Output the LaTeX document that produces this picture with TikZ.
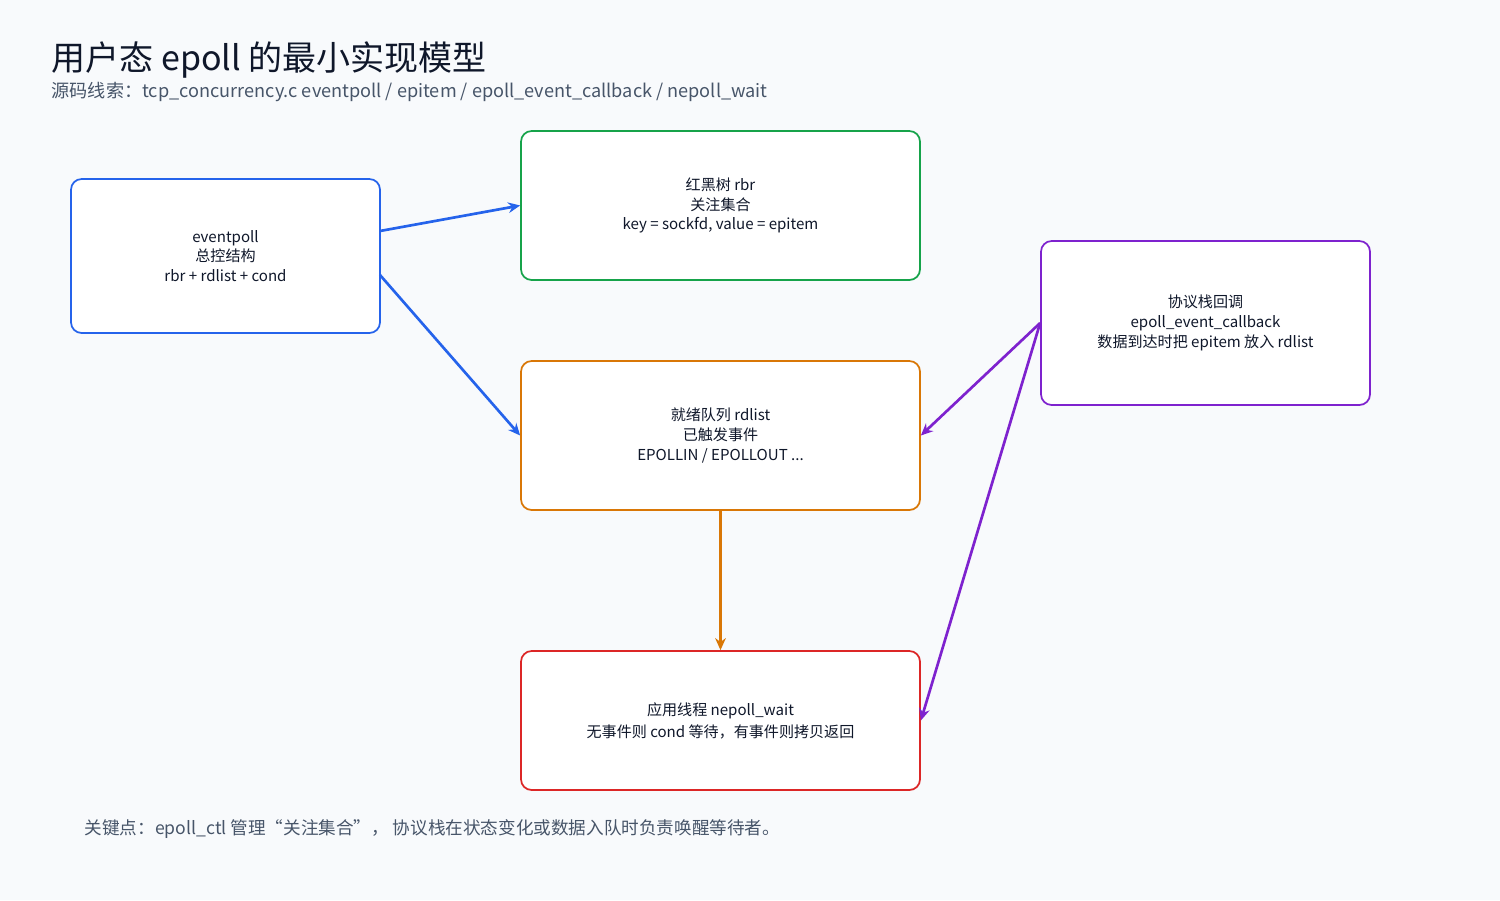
\documentclass[tikz,border=0pt]{standalone}
\usepackage{fontspec}
\setmainfont{Noto Sans CJK SC}
\usetikzlibrary{arrows.meta}
\definecolor{bg}{HTML}{F8FAFC}
\definecolor{cb}{HTML}{2563EB}
\definecolor{cg}{HTML}{16A34A}
\definecolor{co}{HTML}{D97706}
\definecolor{cp}{HTML}{7E22CE}
\definecolor{cr}{HTML}{DC2626}
\definecolor{tx}{HTML}{0F172A}
\definecolor{sub}{HTML}{475569}
\begin{document}
\begin{tikzpicture}[x=0.75pt,y=-0.75pt,
  box/.style={draw=#1,line width=1.3pt,fill=white,rounded corners=8pt,align=center,font=\fontsize{11.3}{14.8}\selectfont,text=tx},
  arr/.style={draw=#1,line width=2pt,-{Stealth[length=9pt,width=8pt]}}]
\fill[bg] (0,0) rectangle (1500,900);
\useasboundingbox (0,0) rectangle (1500,900);
\node[anchor=west,text=tx,font=\fontsize{25.5}{30}\selectfont] (title) at (47,60) {用户态 epoll 的最小实现模型};
\node[anchor=west,text=sub,font=\fontsize{13.6}{16}\selectfont] (subt) at (47,92) {源码线索：tcp\_concurrency.c eventpoll / epitem / epoll\_event\_callback / nepoll\_wait};
\node[box=cb,minimum width=309pt*0.75,minimum height=154pt*0.75] (ep) at (225.5,256) {eventpoll\\总控结构\\rbr + rdlist + cond};
\node[box=cg,minimum width=399pt*0.75,minimum height=149pt*0.75] (rbr) at (720.5,205.5) {红黑树 rbr\\关注集合\\key = sockfd, value = epitem};
\node[box=co,minimum width=399pt*0.75,minimum height=149pt*0.75] (rdl) at (720.5,435.5) {就绪队列 rdlist\\已触发事件\\EPOLLIN / EPOLLOUT ...};
\node[box=cp,minimum width=329pt*0.75,minimum height=164pt*0.75] (cbk) at (1205.5,323) {协议栈回调\\epoll\_event\_callback\\数据到达时把 epitem 放入 rdlist};
\node[box=cr,minimum width=399pt*0.75,minimum height=139pt*0.75,font=\fontsize{11.3}{16.5}\selectfont] (wt) at (720.5,720.5) {应用线程 nepoll\_wait\\无事件则 cond 等待，有事件则拷贝返回};
\node[anchor=west,text=sub,font=\fontsize{13.2}{16}\selectfont] (note) at (80,829) {关键点：epoll\_ctl 管理“关注集合”， 协议栈在状态变化或数据入队时负责唤醒等待者。};
\coordinate (a1) at (380,231); \coordinate (a2) at (380,275);
\draw[arr=cb] (a1) -- (rbr.west);
\draw[arr=cb] (a2) -- (rdl.west);
\draw[arr=co] (rdl.south) -- (wt.north);
\draw[arr=cp] (cbk.west) -- (rdl.east);
\draw[arr=cp] (cbk.west) -- (wt.east);
\end{tikzpicture}
\end{document}
